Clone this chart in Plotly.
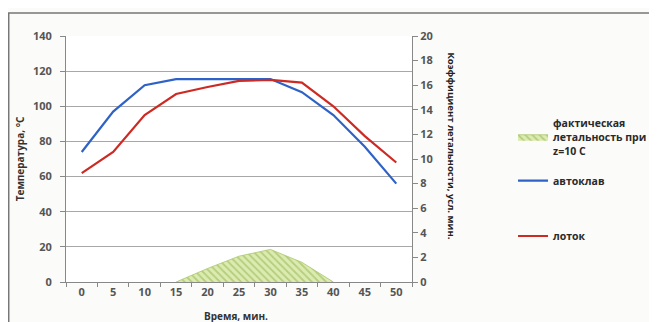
import plotly.graph_objects as go

time_labels = ["0", "5", "10", "15", "20", "25", "30", "35", "40", "45", "50"]
autoclave = [74, 97, 112, 115.5, 115.5, 115.5, 115.5, 108, 95, 77, 56]
tray = [62, 74, 95, 107, 111, 114.5, 115, 113.5, 100, 83, 68]
lethality = [None, None, None, 0, 1.1, 2.1, 2.65, 1.6, 0, None, None]

name_leth = "фактическая<br>летальность при<br>z=10 C"
name_auto = "автоклав"
name_tray = "лоток"

FONT = "Open Sans"
tick_font = dict(family=FONT, size=11, color="#555", weight="bold")
title_font = dict(family=FONT, size=10, color="#333", weight="bold")

fig = go.Figure()
fig.add_trace(go.Scatter(
    x=time_labels, y=lethality, name=name_leth, yaxis="y2",
    mode="lines", line=dict(color="#a8c86a", width=0.8),
    fill="tozeroy", fillcolor="#d7e8a8",
    fillpattern=dict(shape="\\", fgcolor="#8fb04c", bgcolor="#dcebb0", size=5, solidity=0.35),
    legend="legend", connectgaps=False,
))
fig.add_trace(go.Scatter(
    x=time_labels, y=autoclave, name=name_auto, mode="lines",
    line=dict(color="#2f62c6", width=2.2), legend="legend2",
))
fig.add_trace(go.Scatter(
    x=time_labels, y=tray, name=name_tray, mode="lines",
    line=dict(color="#cc2a22", width=2.2), legend="legend3",
))

leg_common = dict(font=dict(family=FONT, size=10.5, color="#2a2a2a", weight="bold"),
                  bgcolor="rgba(0,0,0,0)", xanchor="left", x=1.292, itemwidth=30)

# page body has an 8px default margin, so the figure is offset by 8px
fig.update_layout(
    width=649, height=314,
    margin=dict(l=58, r=245, t=28, b=40, autoexpand=False),
    paper_bgcolor="#fbfbf9", plot_bgcolor="#ffffff",
    xaxis=dict(type="category", range=[-0.5, 10.5], tickson="boundaries",
               ticks="outside", ticklen=4, tickcolor="#888",
               showline=True, linecolor="#888", linewidth=1, showgrid=False,
               tickfont=tick_font, automargin=False),
    yaxis=dict(range=[0, 140], dtick=20, showgrid=True, gridcolor="#a8a8a8", gridwidth=1,
               showline=True, linecolor="#888", ticks="outside", ticklen=5, tickcolor="#888",
               tickfont=tick_font, zeroline=False, ticklabelstandoff=6, automargin=False,
               title=dict(text="Температура, °C", font=title_font, standoff=6)),
    yaxis2=dict(range=[0, 20], dtick=2, overlaying="y", side="right", showgrid=False,
                showline=True, linecolor="#888", ticks="outside", ticklen=5, tickcolor="#888",
                tickfont=tick_font, zeroline=False, automargin=False),
    legend=dict(**leg_common, y=0.70, yanchor="top"),
    legend2=dict(**leg_common, y=0.412, yanchor="middle"),
    legend3=dict(**leg_common, y=0.187, yanchor="middle"),
    showlegend=True,
    annotations=[
        dict(text="Коэффициент летальности, усл. мин.", textangle=90,
             xref="paper", yref="paper", x=1.138, y=0.554, showarrow=False,
             font=dict(family=FONT, size=9.5, color="#222", weight="bold")),
        dict(text="Время, мин.", xref="paper", yref="paper", x=0.49, y=-0.138,
             yanchor="middle", showarrow=False, font=title_font),
    ],
    shapes=[dict(type="rect", xref="paper", yref="paper", x0=-0.1655, x1=1.9, y0=-0.4, y1=1.0935,
                 line=dict(color="#777", width=1.5), fillcolor="rgba(0,0,0,0)", layer="below")],
)

fig.write_html("out.html")
